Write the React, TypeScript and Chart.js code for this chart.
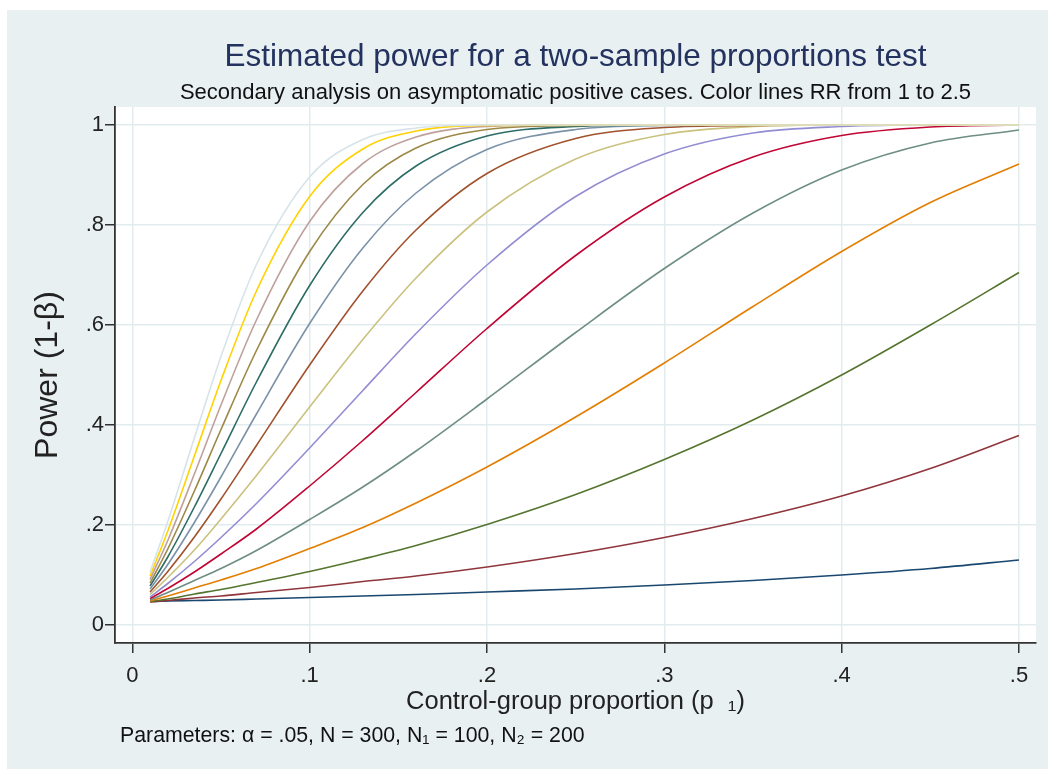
import React, { useEffect, useRef } from 'react';
import { Chart, registerables } from 'chart.js';

Chart.register(...registerables);

// Control-group proportion (x) at which the curves are read
const controlProportion = [0.01, 0.02, 0.035, 0.05, 0.07, 0.1, 0.13, 0.16, 0.2, 0.25, 0.3, 0.35, 0.4, 0.45, 0.5];

// Estimated power (1-β) per risk ratio
const powerRR11 = [0.047, 0.048, 0.049, 0.05, 0.052, 0.055, 0.058, 0.061, 0.066, 0.072, 0.08, 0.089, 0.1, 0.113, 0.13];
const powerRR12 = [0.046, 0.049, 0.054, 0.058, 0.065, 0.075, 0.087, 0.098, 0.116, 0.143, 0.175, 0.213, 0.258, 0.313, 0.379];
const powerRR13 = [0.047, 0.052, 0.062, 0.071, 0.085, 0.107, 0.132, 0.159, 0.201, 0.261, 0.331, 0.41, 0.5, 0.6, 0.705];
const powerRR14 = [0.048, 0.058, 0.074, 0.09, 0.113, 0.153, 0.195, 0.244, 0.316, 0.416, 0.524, 0.637, 0.747, 0.845, 0.922];
const powerRR15 = [0.05, 0.065, 0.089, 0.113, 0.149, 0.211, 0.276, 0.348, 0.452, 0.585, 0.713, 0.824, 0.91, 0.964, 0.99];
const powerRR16 = [0.053, 0.073, 0.106, 0.142, 0.192, 0.278, 0.369, 0.465, 0.593, 0.739, 0.856, 0.936, 0.979, 0.996, 1];
const powerRR17 = [0.056, 0.083, 0.127, 0.175, 0.243, 0.354, 0.469, 0.583, 0.72, 0.857, 0.942, 0.984, 0.997, 1, 1];
const powerRR18 = [0.061, 0.095, 0.15, 0.212, 0.299, 0.436, 0.571, 0.694, 0.826, 0.932, 0.981, 0.997, 1, 1, 1];
const powerRR19 = [0.066, 0.107, 0.176, 0.252, 0.359, 0.52, 0.668, 0.79, 0.903, 0.973, 0.995, 0.999, 1, 1, 1];
const powerRR20 = [0.072, 0.121, 0.205, 0.296, 0.422, 0.603, 0.754, 0.864, 0.951, 0.991, 0.999, 1, 1, 1, 1];
const powerRR21 = [0.078, 0.136, 0.236, 0.343, 0.486, 0.679, 0.825, 0.918, 0.978, 0.997, 1, 1, 1, 1, 1];
const powerRR22 = [0.084, 0.152, 0.268, 0.391, 0.549, 0.747, 0.881, 0.954, 0.991, 0.999, 1, 1, 1, 1, 1];
const powerRR23 = [0.091, 0.169, 0.302, 0.44, 0.61, 0.807, 0.923, 0.976, 0.997, 1, 1, 1, 1, 1, 1];
const powerRR24 = [0.098, 0.188, 0.338, 0.489, 0.668, 0.857, 0.952, 0.988, 0.999, 1, 1, 1, 1, 1, 1];
const powerRR25 = [0.106, 0.207, 0.374, 0.537, 0.721, 0.896, 0.971, 0.994, 1, 1, 1, 1, 1, 1, 1];

const riskRatios = ['1.1', '1.2', '1.3', '1.4', '1.5', '1.6', '1.7', '1.8', '1.9', '2.0', '2.1', '2.2', '2.3', '2.4', '2.5'];
const powerSeries = [
  powerRR11, powerRR12, powerRR13, powerRR14, powerRR15, powerRR16, powerRR17, powerRR18,
  powerRR19, powerRR20, powerRR21, powerRR22, powerRR23, powerRR24, powerRR25,
];
const seriesColors = [
  'rgb(26,71,111)', 'rgb(144,53,59)', 'rgb(85,117,47)', 'rgb(227,126,0)', 'rgb(110,142,132)',
  'rgb(193,5,52)', 'rgb(147,141,210)', 'rgb(202,194,126)', 'rgb(160,82,45)', 'rgb(123,146,168)',
  'rgb(45,109,102)', 'rgb(156,136,71)', 'rgb(191,161,156)', 'rgb(255,210,0)', 'rgb(214,228,234)',
];

const xTicks = [0, 0.1, 0.2, 0.3, 0.4, 0.5];
const xTickLabels = ['0', '.1', '.2', '.3', '.4', '.5'];
const yTicks = [0, 0.2, 0.4, 0.6, 0.8, 1];
const yTickLabels = ['0', '.2', '.4', '.6', '.8', '1'];

const titleText = 'Estimated power for a two-sample proportions test';
const subtitleText = 'Secondary analysis on asymptomatic positive cases. Color lines RR from 1 to 2.5';
const xTitleText = 'Control-group proportion (p  \u2081)';
const yTitleText = 'Power (1-\u03b2)';
const noteText = 'Parameters: \u03b1 = .05, N = 300, N\u2081 = 100, N\u2082 = 200';

const FONT = "'Liberation Sans', Arial, Helvetica, sans-serif";
const BG = 'rgb(233,240,242)';
const GRID = 'rgb(226,236,239)';
const AXIS = '#333';

const plotBackground = {
  id: 'plotBackground',
  beforeDraw(chart: any) {
    const { ctx, chartArea } = chart;
    ctx.save();
    ctx.fillStyle = BG;
    ctx.fillRect(0, 0, chart.width, chart.height);
    ctx.fillStyle = '#ffffff';
    ctx.fillRect(chartArea.left, chartArea.top, chartArea.right - chartArea.left, chartArea.bottom - chartArea.top);
    ctx.restore();
  },
};

export default function App() {
  const canvasRef = useRef<HTMLCanvasElement | null>(null);

  useEffect(() => {
    if (!canvasRef.current) return;
    const chart = new Chart(canvasRef.current, {
      type: 'line',
      data: {
        datasets: powerSeries.map((vals, k) => ({
          label: `RR ${riskRatios[k]}`,
          data: controlProportion.map((x, i) => ({ x, y: vals[i] })),
          borderColor: seriesColors[k],
          backgroundColor: seriesColors[k],
          borderWidth: 1.6,
          pointRadius: 0,
          fill: false,
          cubicInterpolationMode: 'monotone',
          order: powerSeries.length - 1 - k,
        })),
      },
      options: {
        animation: false,
        responsive: false,
        maintainAspectRatio: false,
        events: [],
        layout: { padding: { left: 20, right: 12, top: 0, bottom: 46 } },
        plugins: {
          legend: { display: false },
          tooltip: { enabled: false },
          title: {
            display: true,
            text: titleText,
            fullSize: false,
            color: '#23325e',
            font: { family: FONT, size: 31.5, weight: 'normal', lineHeight: 1.2 },
            padding: { top: 28.1, bottom: 0 },
          },
          subtitle: {
            display: true,
            text: subtitleText,
            fullSize: false,
            color: '#111',
            font: { family: FONT, size: 22, weight: 'normal', lineHeight: 1.2 },
            padding: { top: 3.9, bottom: 0.8 },
          },
        },
        scales: {
          x: {
            type: 'linear',
            min: -0.00976,
            max: 0.5096,
            afterBuildTicks: (s: any) => {
              s.ticks = xTicks.map((v) => ({ value: v }));
            },
            afterFit: (s: any) => {
              s.height = 80;
            },
            ticks: {
              callback: (_v: any, i: number) => xTickLabels[i],
              color: '#222',
              font: { family: FONT, size: 22 },
              padding: 9.3,
              maxRotation: 0,
              autoSkip: false,
            },
            grid: { color: GRID, lineWidth: 1.5, tickLength: 10, tickColor: AXIS, tickWidth: 1.5 },
            border: { display: true, color: AXIS, width: 1.8 },
            title: {
              display: true,
              text: xTitleText,
              color: '#222',
              font: { family: FONT, size: 25.5, lineHeight: 1.2 },
              padding: { top: 0, bottom: 5.7 },
            },
          },
          y: {
            type: 'linear',
            min: -0.036,
            max: 1.036,
            afterBuildTicks: (s: any) => {
              s.ticks = yTicks.map((v) => ({ value: v }));
            },
            afterFit: (s: any) => {
              s.width = 88;
            },
            ticks: {
              callback: (_v: any, i: number) => yTickLabels[i],
              color: '#222',
              font: { family: FONT, size: 22 },
              padding: 1,
              autoSkip: false,
            },
            grid: { color: GRID, lineWidth: 1.5, tickLength: 10, tickColor: AXIS, tickWidth: 1.5 },
            border: { display: true, color: AXIS, width: 1.8 },
            title: {
              display: true,
              text: yTitleText,
              color: '#222',
              font: { family: FONT, size: 32, lineHeight: 1.2 },
              padding: { top: 1.8, bottom: 0 },
            },
          },
        },
      } as any,
      plugins: [plotBackground],
    });
    return () => chart.destroy();
  }, []);

  return (
    <div
      style={{
        position: 'fixed',
        left: 7,
        top: 10,
        width: 1041,
        height: 759,
        background: BG,
        overflow: 'hidden',
      }}
    >
      <canvas
        ref={canvasRef}
        width={1041}
        height={759}
        style={{ display: 'block', width: 1041, height: 759 }}
      />
      <div
        style={{
          position: 'absolute',
          left: 113,
          top: 715,
          fontFamily: FONT,
          fontSize: 21.3,
          lineHeight: '21px',
          color: '#111',
          whiteSpace: 'nowrap',
        }}
      >
        {noteText}
      </div>
    </div>
  );
}
